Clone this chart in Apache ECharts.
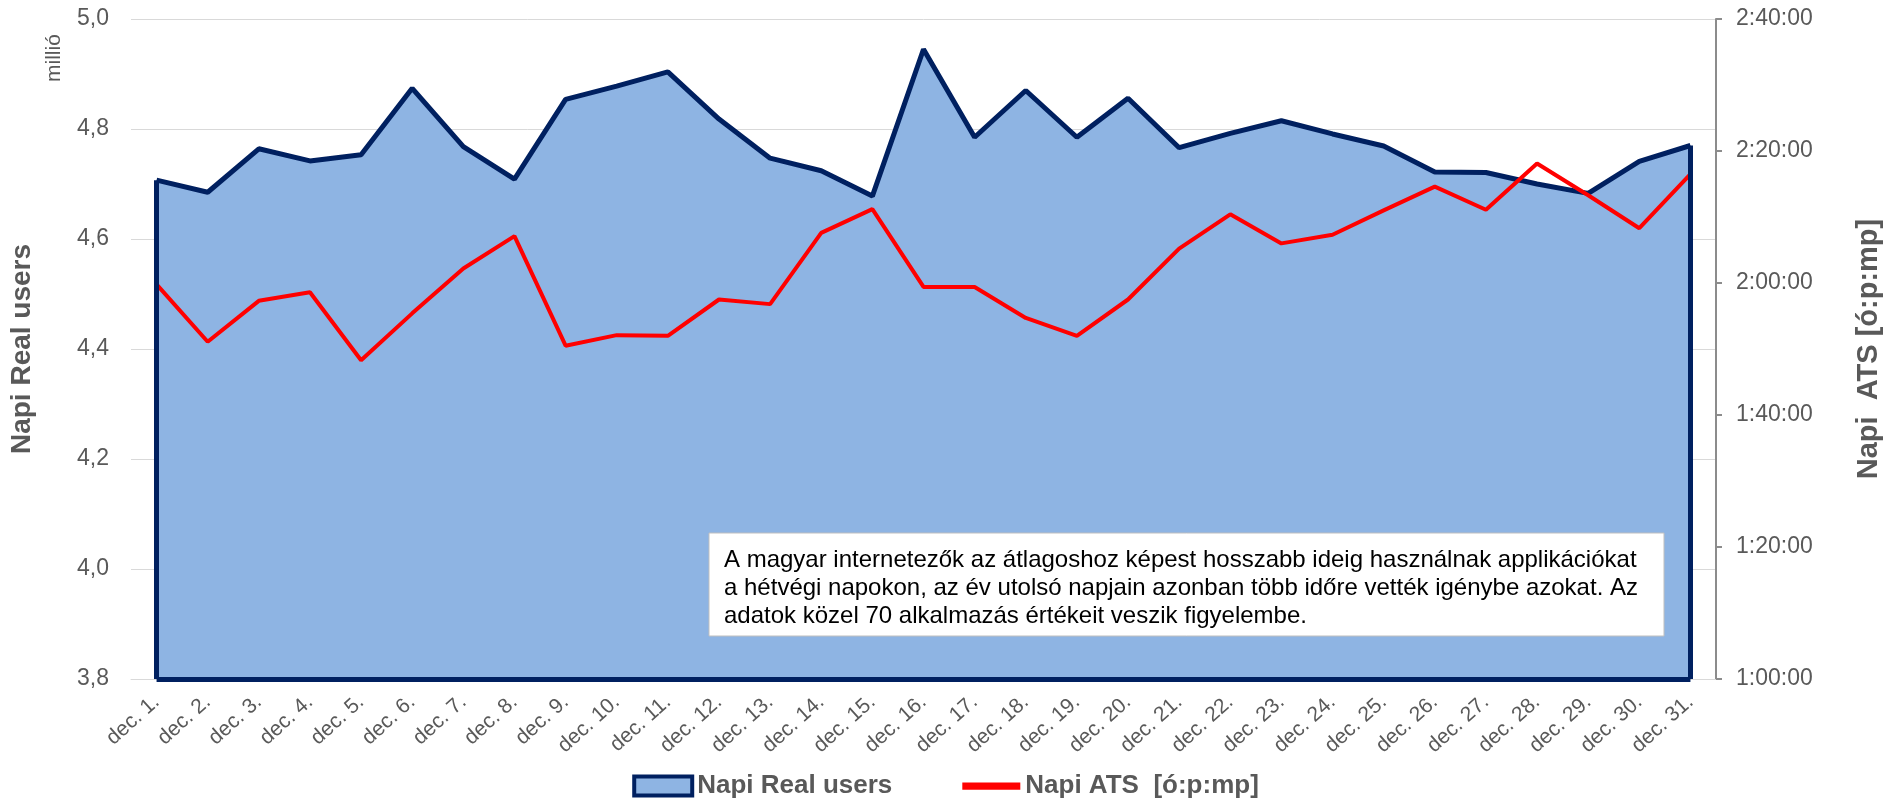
<!DOCTYPE html>
<html>
<head>
<meta charset="utf-8">
<script src="https://cdn.jsdelivr.net/npm/echarts@6/dist/echarts.min.js"></script>
<style>
  html, body { margin: 0; padding: 0; background: #fff; }
  #chart { width: 1891px; height: 810px; }
</style>
</head>
<body>
<div id="chart"></div>
<script>
var days = [];
for (var d = 1; d <= 31; d++) days.push('dec. ' + d + '.');

// napi real users (millió)
var realUsers = [
  4.707, 4.685, 4.764, 4.742, 4.753, 4.874, 4.768, 4.709, 4.854, 4.878,
  4.904, 4.818, 4.747, 4.724, 4.678, 4.945, 4.785, 4.870, 4.785, 4.856,
  4.766, 4.792, 4.815, 4.791, 4.769, 4.722, 4.721, 4.700, 4.683, 4.741, 4.770
];
// napi ATS, másodpercben
var atsSeconds = [
  7188, 6666, 7038, 7116, 6498, 6924, 7332, 7626, 6630, 6726,
  6720, 7050, 7008, 7656, 7872, 7164, 7164, 6882, 6720, 7050,
  7512, 7824, 7560, 7638, 7860, 8076, 7866, 8286, 7998, 7698, 8190
];

var usersMin = 3.8, usersMax = 5.0, usersStep = 0.2;
var atsMin = 3600, atsMax = 9600, atsStep = 1200;

var noteLines = [
  'A magyar internetezők az átlagoshoz képest hosszabb ideig használnak applikációkat',
  'a hétvégi napokon, az év utolsó napjain azonban több időre vették igénybe azokat. Az',
  'adatok közel 70 alkalmazás értékeit veszik figyelembe.'
];

function hms(sec) {
  var h = Math.floor(sec / 3600);
  var m = Math.floor((sec % 3600) / 60);
  var s = sec % 60;
  return h + ':' + (m < 10 ? '0' : '') + m + ':' + (s < 10 ? '0' : '') + s;
}

var last = days.length - 1;
var chart = echarts.init(document.getElementById('chart'));
var grey = '#595959';

var option = {
  animation: false,
  grid: { left: 131, right: 164, top: 19, bottom: 131 },
  legend: {
    bottom: 6,
    left: 'center',
    itemWidth: 58,
    itemHeight: 19,
    itemGap: 70,
    textStyle: { fontFamily: 'Liberation Sans', fontWeight: 'bold', fontSize: 26, color: grey },
    data: [
      { name: 'Napi Real users', icon: 'rect',
        itemStyle: { color: '#8EB4E3', borderColor: '#002060', borderWidth: 4 } },
      { name: 'Napi ATS  [ó:p:mp]', icon: 'path://M0,0H40V5H0Z',
        itemStyle: { color: '#FF0000', borderWidth: 0 } }
    ]
  },
  xAxis: {
    type: 'category',
    data: days,
    boundaryGap: true,
    axisTick: { show: false },
    axisLine: { show: true, lineStyle: { color: '#D9D9D9', width: 1 } },
    axisLabel: {
      rotate: 42, interval: 0, margin: 20,
      fontFamily: 'Liberation Sans', fontSize: 21, color: grey
    }
  },
  yAxis: [{
    type: 'value',
    min: usersMin, max: usersMax, interval: usersStep,
    name: 'Napi Real users',
    nameLocation: 'middle',
    nameRotate: 90,
    nameGap: 95,
    nameTextStyle: { fontFamily: 'Liberation Sans', fontWeight: 'bold', fontSize: 28, color: grey },
    axisLine: { show: false },
    axisTick: { show: false },
    splitLine: { lineStyle: { color: '#D9D9D9', width: 1 } },
    axisLabel: {
      margin: 22, fontFamily: 'Liberation Sans', fontSize: 23, color: grey,
      formatter: function (v) { return v.toFixed(1).replace('.', ','); }
    }
  }, {
    type: 'value',
    position: 'right',
    min: atsMin, max: atsMax, interval: atsStep,
    name: 'Napi  ATS [ó:p:mp]',
    nameLocation: 'middle',
    nameRotate: 90,
    nameGap: 138,
    nameTextStyle: { fontFamily: 'Liberation Sans', fontWeight: 'bold', fontSize: 29, color: grey },
    axisLine: { show: true, lineStyle: { color: '#8C8C8C', width: 2 } },
    axisTick: { show: true, length: 6, lineStyle: { color: '#8C8C8C', width: 2 } },
    splitLine: { show: false },
    axisLabel: {
      margin: 20, fontFamily: 'Liberation Sans', fontSize: 23, color: grey,
      formatter: function (v) { return hms(v); }
    }
  }],
  series: [{
    name: 'Napi Real users',
    type: 'line',
    data: realUsers,
    yAxisIndex: 0,
    symbol: 'none',
    lineStyle: { color: '#002060', width: 5 },
    itemStyle: { color: '#002060' },
    areaStyle: { color: '#8EB4E3', opacity: 1, origin: 'start' },
    z: 2,
    markLine: {
      silent: true,
      symbol: 'none',
      label: { show: false },
      lineStyle: { color: '#002060', width: 5, type: 'solid' },
      data: [
        [{ coord: [0, usersMin] }, { coord: [0, realUsers[0]] }],
        [{ coord: [last, usersMin] }, { coord: [last, realUsers[last]] }],
        [{ coord: [0, usersMin] }, { coord: [last, usersMin] }]
      ]
    }
  }, {
    name: 'Napi ATS  [ó:p:mp]',
    type: 'line',
    data: atsSeconds,
    yAxisIndex: 1,
    symbol: 'none',
    lineStyle: { color: '#FF0000', width: 4 },
    itemStyle: { color: '#FF0000' },
    z: 3
  }],
  graphic: [{
    type: 'text',
    x: 44, y: 82,
    rotation: Math.PI / 2,
    z: 100,
    style: { text: 'millió', fontSize: 21, fontFamily: 'Liberation Sans', fill: grey }
  }, {
    type: 'rect',
    x: 709, y: 533,
    z: 100,
    shape: { x: 0, y: 0, width: 955, height: 103 },
    style: { fill: '#ffffff', stroke: '#BFBFBF', lineWidth: 1 }
  }, {
    type: 'text',
    x: 724, y: 546,
    z: 101,
    style: {
      text: noteLines.join('\n'),
      fontSize: 24,
      fontFamily: 'Liberation Sans',
      lineHeight: 28,
      fill: '#000000'
    }
  }]
};

chart.setOption(option);
</script>
</body>
</html>
